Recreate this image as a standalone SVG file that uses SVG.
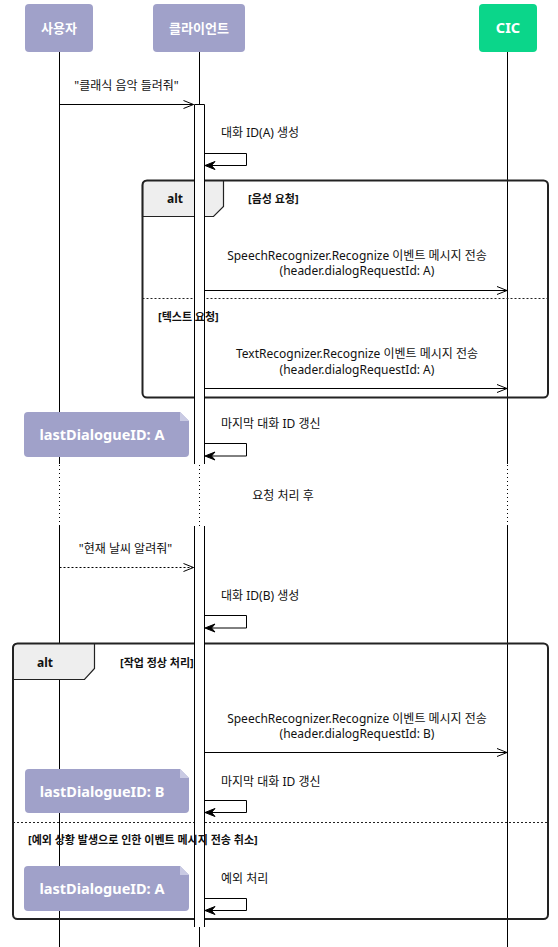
<svg xmlns="http://www.w3.org/2000/svg" width="558" height="947" viewBox="0 0 558 947">
<style>
.t{font-family:"Noto Sans","Noto Sans CJK KR",sans-serif;font-size:12px;fill:#111}
.c{text-anchor:middle}
.b{font-weight:bold;font-size:11px}
.alt{font-family:"Noto Sans",sans-serif;font-weight:bold;font-size:12px;fill:#111;text-anchor:middle}
.pt{font-family:"Noto Sans","Noto Sans CJK KR",sans-serif;font-size:13px;font-weight:bold;fill:#fff;text-anchor:middle}
.ll{stroke:#000;stroke-width:1;fill:none}
.dot{stroke:#000;stroke-width:1;stroke-dasharray:1,3;fill:none}
.msg{stroke:#000;stroke-width:1;fill:none}
.dash{stroke-dasharray:2,2}
.head{fill:#000;stroke:#000;stroke-width:1}
.frame{fill:none;stroke:#222;stroke-width:2}
.tab{fill:#eee;stroke:#222;stroke-width:1.2}
.sep{stroke:#222;stroke-dasharray:2,2;stroke-width:1}
.note{fill:#a0a1c9}
.fold{fill:#c9cae3}
.nt{font-family:"Noto Sans",sans-serif;font-size:14.5px;font-weight:bold;fill:#fff;text-anchor:middle}
.act{fill:#fff;stroke:none}
</style>

<g id="lifelines">
  <path class="ll" d="M59.5,52 V464 M59.5,526 V947"/>
  <path class="dot" d="M59.5,465 V526"/>
  <path class="ll" d="M199.5,52 V464 M199.5,526 V947"/>
  <path class="dot" d="M199.5,465 V526"/>
  <path class="ll" d="M507.5,52 V464 M507.5,526 V947"/>
  <path class="dot" d="M507.5,465 V526"/>
</g>

<g id="participants">
  <g id="p-user">
    <rect x="25" y="4" width="68" height="48" rx="4" fill="#a0a1c9"/>
    <text class="pt" x="59" y="32.5">사용자</text>
  </g>
  <g id="p-client">
    <rect x="153" y="4" width="92" height="48" rx="4" fill="#a0a1c9"/>
    <text class="pt" x="199" y="32.5">클라이언트</text>
  </g>
  <g id="p-cic">
    <rect x="479" y="4" width="58" height="48" rx="4" fill="#0bd68a"/>
    <text class="pt" x="508" y="33" style="font-size:14.5px">CIC</text>
  </g>
</g>

<g id="frame-alt-1">
  <path class="tab" d="M142.5,185 Q142.5,180.5 147,180.5 H223.5 V206.5 L213.5,216.5 H142.5 Z"/>
  <rect class="frame" x="142.5" y="180.5" width="405.5" height="217" rx="4.5"/>
  <line class="sep" x1="142.5" y1="298.5" x2="548" y2="298.5"/>
</g>

<g id="frame-alt-2">
  <path class="tab" d="M13,648 Q13,643.5 17.5,643.5 H94.5 V668.5 L84.5,679.5 H13 Z"/>
  <rect class="frame" x="13" y="643.5" width="535" height="275.5" rx="4.5"/>
  <line class="sep" x1="13" y1="822.5" x2="548" y2="822.5"/>
</g>

<g id="activation">
  <rect class="act" x="194.5" y="104.5" width="10" height="359.5"/>
  <path class="ll" d="M194.5,104.5 H204.5 M194.5,104.5 V464 M204.5,104.5 V464"/>
  <rect class="act" x="194.5" y="526" width="10" height="401"/>
  <path class="ll" d="M194.5,526 V927 M204.5,526 V927"/>
</g>

<g id="frame-labels">
  <text class="alt" x="175" y="203">alt</text>
  <text class="t b" x="248" y="203">[음성 요청]</text>
  <text class="t b" x="158" y="320.5">[텍스트 요청]</text>
  <text class="alt" x="45" y="666.5">alt</text>
  <text class="t b" x="120" y="666.5">[작업 정상 처리]</text>
  <text class="t b" x="28" y="844">[예외 상황 발생으로 인한 이벤트 메시지 전송 취소]</text>
</g>

<g id="note-a1">
  <path class="note" d="M28,412 H180 L189,421 V453 Q189,457 185,457 H28 Q24,457 24,453 V416 Q24,412 28,412 Z"/>
  <path class="fold" d="M180,412 V421 H189 Z"/>
  <text class="nt" x="102" y="440">lastDialogueID: A</text>
</g>
<g id="note-b">
  <path class="note" d="M29,769 H180 L189,778 V809 Q189,813 185,813 H29 Q25,813 25,809 V773 Q25,769 29,769 Z"/>
  <path class="fold" d="M180,769 V778 H189 Z"/>
  <text class="nt" x="102" y="797">lastDialogueID: B</text>
</g>
<g id="note-a2">
  <path class="note" d="M28,866 H180 L189,875 V907 Q189,911 185,911 H28 Q24,911 24,907 V870 Q24,866 28,866 Z"/>
  <path class="fold" d="M180,866 V875 H189 Z"/>
  <text class="nt" x="102" y="894">lastDialogueID: A</text>
</g>

<g id="connectors">
  <g id="m1">
    <line class="msg" x1="59.5" y1="104.5" x2="193.5" y2="104.5"/>
    <polyline class="msg" points="183.5,100.5 193.5,104.5 183.5,108.5"/>
    <text class="t c" x="126.5" y="90">"클래식 음악 들려줘"</text>
  </g>
  <g id="m2">
    <path class="msg" d="M204.5,153.5 H246.5 V165.5 H208"/>
    <polygon class="head" points="205,165.5 215,161.5 211.5,165.5 215,169.5"/>
    <text class="t" x="221" y="137">대화 ID(A) 생성</text>
  </g>
  <g id="m3">
    <line class="msg" x1="204.5" y1="290.5" x2="507" y2="290.5"/>
    <polyline class="msg" points="497,286.5 507,290.5 497,294.5"/>
    <text class="t c" x="357" y="259.5">SpeechRecognizer.Recognize 이벤트 메시지 전송</text>
    <text class="t c" x="357" y="275">(header.dialogRequestId: A)</text>
  </g>
  <g id="m4">
    <line class="msg" x1="204.5" y1="388.5" x2="507" y2="388.5"/>
    <polyline class="msg" points="497,384.5 507,388.5 497,392.5"/>
    <text class="t c" x="357" y="358">TextRecognizer.Recognize 이벤트 메시지 전송</text>
    <text class="t c" x="357" y="373.5">(header.dialogRequestId: A)</text>
  </g>
  <g id="m5">
    <path class="msg" d="M204.5,443.5 H246.5 V456 H208"/>
    <polygon class="head" points="205,456 215,452 211.5,456 215,460"/>
    <text class="t" x="221" y="428">마지막 대화 ID 갱신</text>
  </g>
  <g id="delay">
    <text class="t c" x="283" y="500">요청 처리 후</text>
  </g>
  <g id="m6">
    <line class="msg dash" x1="59.5" y1="567.5" x2="193.5" y2="567.5"/>
    <polyline class="msg" points="183.5,563.5 193.5,567.5 183.5,571.5"/>
    <text class="t c" x="125.5" y="553">"현재 날씨 알려줘"</text>
  </g>
  <g id="m7">
    <path class="msg" d="M204.5,615.5 H246.5 V628 H208"/>
    <polygon class="head" points="205,628 215,624 211.5,628 215,632"/>
    <text class="t" x="221" y="600">대화 ID(B) 생성</text>
  </g>
  <g id="m8">
    <line class="msg" x1="204.5" y1="752.5" x2="507" y2="752.5"/>
    <polyline class="msg" points="497,748.5 507,752.5 497,756.5"/>
    <text class="t c" x="357" y="722.5">SpeechRecognizer.Recognize 이벤트 메시지 전송</text>
    <text class="t c" x="357" y="738">(header.dialogRequestId: B)</text>
  </g>
  <g id="m9">
    <path class="msg" d="M204.5,800.5 H246.5 V812.5 H208"/>
    <polygon class="head" points="205,812.5 215,808.5 211.5,812.5 215,816.5"/>
    <text class="t" x="221" y="786">마지막 대화 ID 갱신</text>
  </g>
  <g id="m10">
    <path class="msg" d="M204.5,898.5 H246.5 V910.5 H208"/>
    <polygon class="head" points="205,910.5 215,906.5 211.5,910.5 215,914.5"/>
    <text class="t" x="221" y="883">예외 처리</text>
  </g>
</g>
</svg>
